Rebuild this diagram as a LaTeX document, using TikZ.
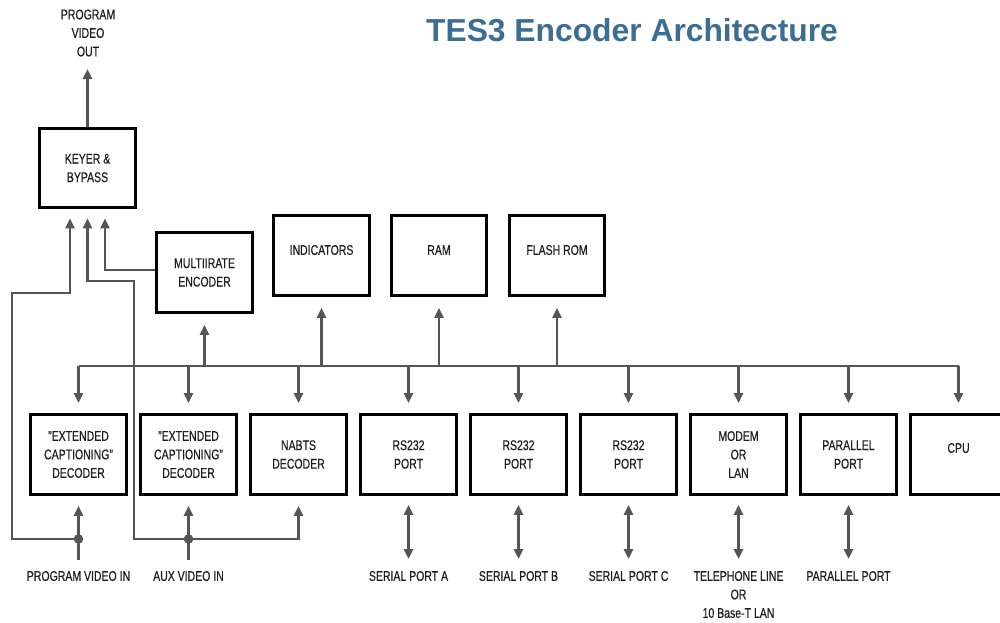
\documentclass[tikz,border=0pt]{standalone}
\usepackage{fontspec}
\setmainfont{Liberation Sans}[FakeStretch=0.75,FakeBold=0.5]
\newfontfamily\ttlfamily{Liberation Sans}
\usetikzlibrary{arrows.meta}
\definecolor{ln}{HTML}{555555}
\definecolor{tx}{HTML}{1E1E1E}
\definecolor{ttl}{HTML}{3C6E93}
\newcommand\lblfont{\fontsize{14}{18.5}\selectfont}
\begin{document}
\begin{tikzpicture}[x=1pt,y=-1pt,
  box/.style={draw=black, line width=3.2pt, minimum width=95.5pt, minimum height=79.5pt,
    inner sep=0pt, align=center, font=\lblfont, text=tx},
  lbl/.style={font=\lblfont, text=tx, align=center, inner sep=0pt},
  wire/.style={draw=ln, line width=2.9pt},
  arr/.style={wire, -{Triangle[length=10pt,width=9pt]}},
  dbl/.style={wire, {Triangle[length=10pt,width=9pt]}-{Triangle[length=10pt,width=9pt]}},
]
\useasboundingbox (0,0) rectangle (1000,622);

% title
\node[font={\ttlfamily\bfseries\fontsize{31.8}{36}\selectfont}, text=ttl, inner sep=0pt] (title) at (632,30) {TES3 Encoder Architecture};

% top left
\node[box] (keyer) at (87.5,168) {KEYER \&\\BYPASS};
\node[box] (multi) at (204.5,272.5) {MULTIIRATE\\ENCODER};
\coordinate (pvout) at (87.5,69);
\node[lbl] (pvoutl) at (88,33) {PROGRAM\\VIDEO\\OUT};

% top memory boxes
\node[box] (ind) at (321.5,255.5) {};
\node[lbl] (indt) at (321.5,250) {INDICATORS};
\node[box] (ram) at (439,255.5) {};
\node[lbl] (ramt) at (439,250) {RAM};
\node[box] (flash) at (557,255.5) {};
\node[lbl] (flasht) at (557,250) {FLASH ROM};

% bottom row
\node[box] (ec1) at (78.5,454.5) {"EXTENDED\\CAPTIONING"\\DECODER};
\node[box] (ec2) at (188.5,454.5) {"EXTENDED\\CAPTIONING"\\DECODER};
\node[box] (nabts) at (298.5,454.5) {NABTS\\DECODER};
\node[box] (rsa) at (408.5,454.5) {RS232\\PORT};
\node[box] (rsb) at (518.5,454.5) {RS232\\PORT};
\node[box] (rsc) at (628.5,454.5) {RS232\\PORT};
\node[box] (modem) at (738.5,454.5) {MODEM\\OR\\LAN};
\node[box] (par) at (848.5,454.5) {PARALLEL\\PORT};
\node[box] (cpu) at (958.5,454.5) {};
\node[lbl] (cput) at (958.5,448) {CPU};

% bus
\coordinate (bus) at (0,366);
\draw[wire] (ec1.north |- bus) -- (cpu.north |- bus);
\foreach \n in {ec1,ec2,nabts,rsa,rsb,rsc,modem,par,cpu}
  \draw[arr] (\n.north |- bus) -- ([yshift=10pt]\n.north);
\foreach \n in {multi,ind,ram,flash}
  \draw[arr] (\n.south |- bus) -- ([yshift=-11pt]\n.south);

% keyer output
\draw[arr] (keyer.north) -- (pvout);

% video inputs
\coordinate (jA) at (78.5,539);
\coordinate (jB) at (188.5,539);
\coordinate (pvin) at (78.5,560);
\coordinate (avin) at (188.5,560);
\node[lbl] (pvinl) at (78.5,576) {PROGRAM VIDEO IN};
\node[lbl] (avinl) at (188.5,576) {AUX VIDEO IN};
\draw[wire] (pvin) -- (jA);
\draw[wire] (avin) -- (jB);
\draw[arr] (jA) -- ([yshift=-10pt]ec1.south);
\draw[arr] (jB) -- ([yshift=-10pt]ec2.south);
\draw[arr] (jB) -| ([yshift=-10pt]nabts.south);
\draw[arr] (jA) -| (12,293) -| ([xshift=-17.5pt,yshift=-9pt]keyer.south);
\draw[arr] (jB) -| (134,281) -| ([yshift=-9pt]keyer.south);
\draw[arr] ([yshift=2.5pt]multi.west) -| ([xshift=17.5pt,yshift=-9pt]keyer.south);
\fill[ln] (jA) circle (4.8pt);
\fill[ln] (jB) circle (4.8pt);

% port connections
\coordinate (dbot) at (0,559);
\foreach \n in {rsa,rsb,rsc,modem,par}
  \draw[dbl] ([yshift=-9pt]\n.south) -- (\n.south |- dbot);
\node[lbl] (sa) at (408.5,576) {SERIAL PORT A};
\node[lbl] (sb) at (518.5,576) {SERIAL PORT B};
\node[lbl] (sc) at (628.5,576) {SERIAL PORT C};
\node[lbl] (tel) at (738.5,594.5) {TELEPHONE LINE\\OR\\10 Base-T LAN};
\node[lbl] (pp) at (848.5,576) {PARALLEL PORT};
\end{tikzpicture}
\end{document}
